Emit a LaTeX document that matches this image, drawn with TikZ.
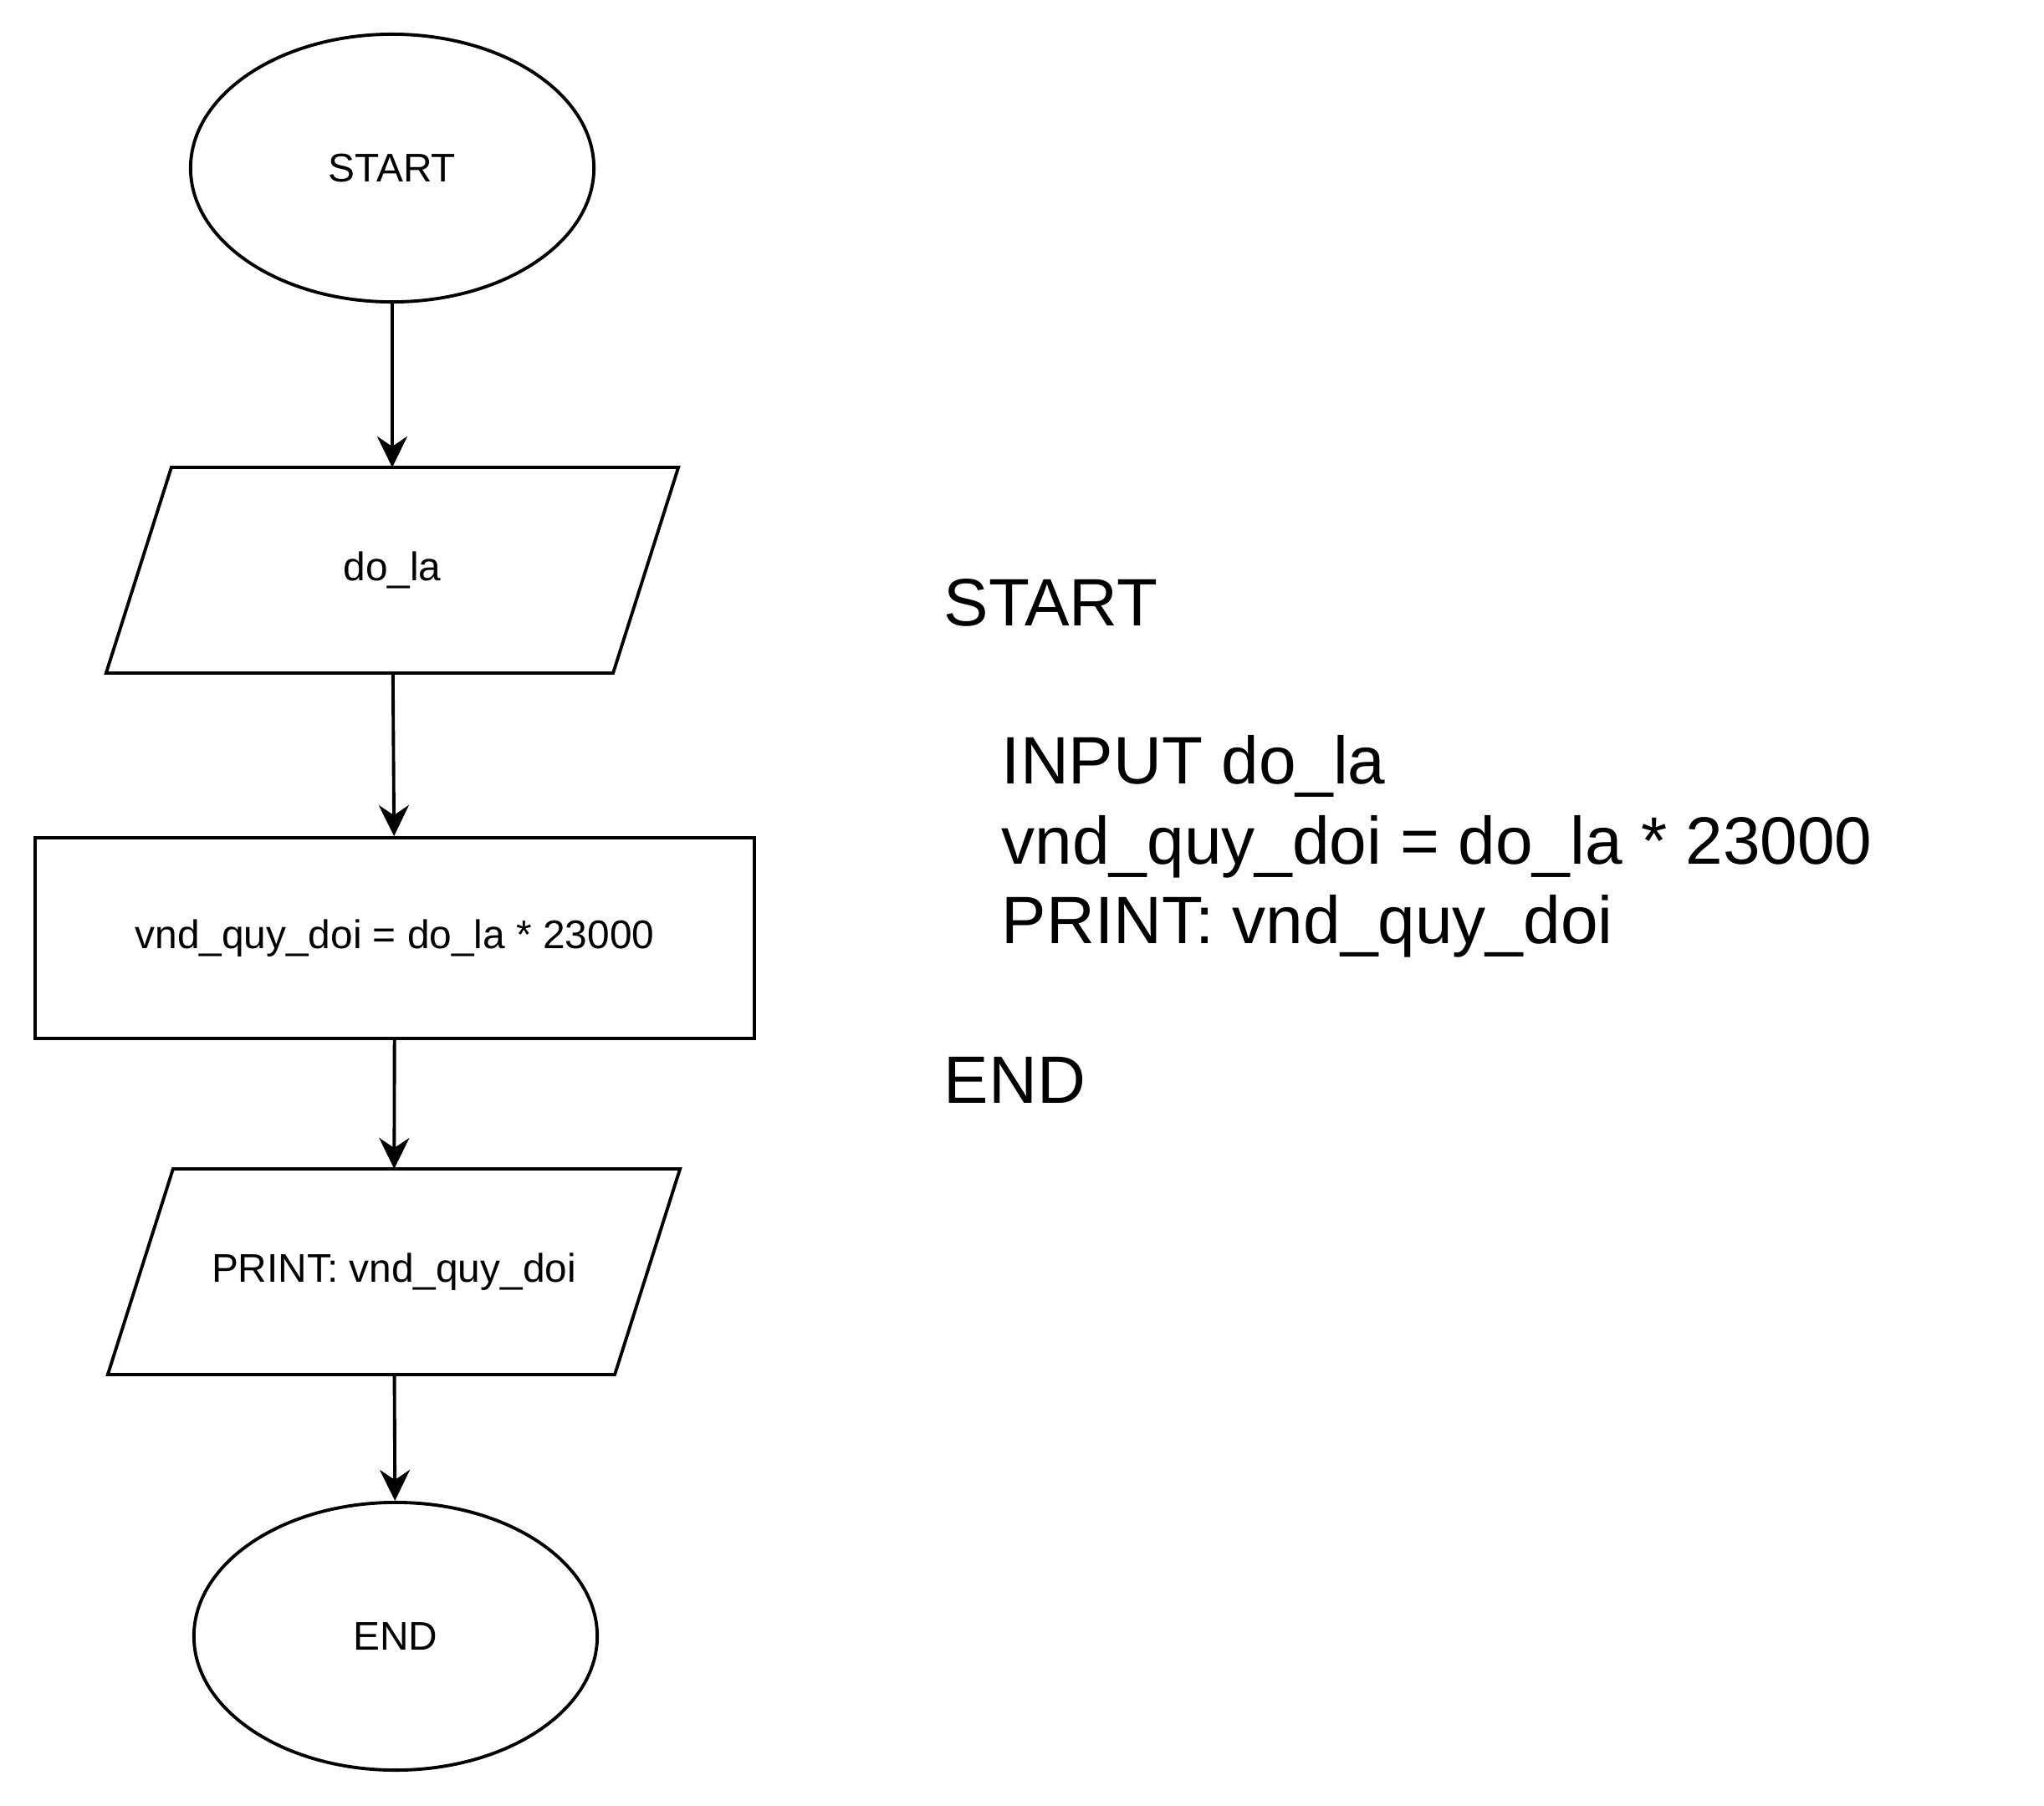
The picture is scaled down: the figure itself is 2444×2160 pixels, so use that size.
\documentclass[tikz,border=0pt]{standalone}
\usepackage{fontspec}
\setmainfont{Liberation Sans}
\usetikzlibrary{shapes.geometric}
\usetikzlibrary{arrows.meta}
\tikzset{
  outline/.style={line width=1.1pt, line join=miter},
  flow/.style={outline, inner sep=0pt, font=\fontsize{13.6}{16}\selectfont},
  terminal/.style={flow, draw, ellipse, minimum width=4.82cm, minimum height=3.2cm},
  io/.style={flow, rectangle, minimum width=6.02cm, minimum height=2.42cm},
  process/.style={flow, draw, rectangle, minimum width=8.6cm, minimum height=2.4cm},
  link/.style={-{Stealth[length=0.37cm,width=0.36cm,inset=0.12cm]}, line width=1.1pt},
  pseudo/.style={anchor=base west, inner sep=0pt, font=\fontsize{22.8}{27}\selectfont}
}
% slanted outline round an io node
\newcommand{\slantbox}[1]{%
  \draw[outline] ([xshift=0.39cm]#1.north west) -- ([xshift=0.39cm]#1.north east)
    -- ([xshift=-0.39cm]#1.south east) -- ([xshift=-0.39cm]#1.south west) -- cycle;}

\begin{document}
\begin{tikzpicture}[x=0.01cm,y=-0.01cm]
  \useasboundingbox (0,0) rectangle (2444,2160);
  % flowchart
  \node[terminal] (start) at (469,201) {START};
  \node[io] (dola) at (469,682) {do\_la};
  \slantbox{dola}
  \node[process] (calc) at (472,1122) {vnd\_quy\_doi = do\_la * 23000};
  \node[io] (print) at (471,1521) {PRINT: vnd\_quy\_doi};
  \slantbox{print}
  \node[terminal] (stop) at (473,1957) {END};
  \draw[link] (start) -- (dola);
  \draw[link] (dola) -- (calc);
  \draw[link] (calc) -- (print);
  \draw[link] (print) -- (stop);
  % pseudocode
  \node[pseudo] (pstart) at (1128,748) {START};
  \node[pseudo] (pinput) at (1197,937) {INPUT do\_la};
  \node[pseudo] (pcalc) at (1197,1033) {vnd\_quy\_doi = do\_la * 23000};
  \node[pseudo] (pprint) at (1197,1128) {PRINT: vnd\_quy\_doi};
  \node[pseudo] (pend) at (1128,1319) {END};
\end{tikzpicture}
\end{document}
